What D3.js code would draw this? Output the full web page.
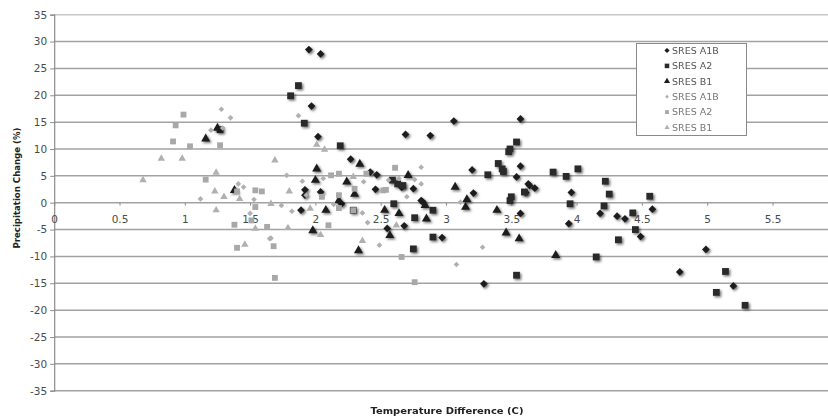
<!doctype html>
<html>
  <head>
    <meta charset="utf-8">
    <script src="https://cdnjs.cloudflare.com/ajax/libs/d3/7.8.5/d3.min.js"></script>
    <style>
      body { margin: 0; background: #fff; }
      text { font-family: "DejaVu Sans", Verdana, sans-serif; }
    </style>
  </head>
  <body>
    <svg></svg>
    <script>
      var width = 828,
          height = 418;

      // [temperature difference, precipitation change]
      var a1bDark = [[1.95,28.5],[2.04,27.7],[1.97,18.0],[2.02,12.3],[2.27,8.1],[2.69,12.7],[2.88,12.5],[3.06,15.2],
        [3.57,15.6],[3.20,6.1],[2.47,5.2],[2.75,2.6],[3.21,1.8],[1.92,2.4],[2.04,2.0],[2.46,2.5],[2.82,0.2],
        [3.57,6.8],[3.54,4.8],[3.63,3.5],[3.68,2.7],[1.89,-1.4],[2.68,-4.3],[2.97,-6.5],[3.57,-2.0],[3.96,1.9],
        [4.58,-1.2],[3.94,-3.9],[4.18,-2.0],[4.31,-2.5],[4.37,-3.0],[4.49,-6.3],[3.29,-15.1],[4.99,-8.7],
        [4.79,-12.9],[5.20,-15.5],[2.81,0.4],[2.66,2.9],[1.92,1.4],[2.42,5.7],[3.61,1.9],[3.64,3.2],[2.20,-0.2],
        [2.55,-4.8]];
      var a2Dark = [[1.87,21.8],[1.81,19.9],[1.915,14.8],[2.19,10.6],[2.59,4.2],[2.60,-0.2],[3.54,11.3],[3.49,10.0],
        [3.48,9.5],[3.40,7.3],[3.43,6.3],[3.32,5.2],[3.60,2.0],[3.50,1.1],[3.49,0.4],[2.90,-1.4],[2.76,-2.8],
        [2.90,-6.4],[2.75,-8.6],[3.82,5.7],[3.92,4.9],[4.01,6.3],[4.22,4.0],[4.25,1.6],[4.56,1.2],[3.95,-0.2],
        [4.21,-0.6],[4.43,-1.9],[4.45,-5.0],[4.32,-6.9],[4.15,-10.1],[3.54,-13.5],[5.14,-12.8],[5.07,-16.7],
        [5.29,-19.1],[2.29,-1.4],[2.63,3.5],[1.27,13.6],[2.67,3.2],[3.44,5.8]];
      var b1Dark = [[2.34,7.2],[2.01,6.3],[2.71,5.1],[2.24,3.9],[2.00,4.2],[2.30,1.6],[3.07,2.9],[3.16,0.6],
        [2.18,0.4],[3.15,-0.8],[3.39,-1.4],[2.85,-3.0],[3.46,-5.6],[3.56,-6.7],[3.84,-9.8],[2.08,-1.4],
        [2.53,-1.4],[2.64,-2.0],[1.98,-5.2],[2.57,-6.1],[2.33,-8.9],[1.16,11.9],[1.38,2.3],[2.84,-0.5],
        [1.25,13.9]];
      var a1bLight = [[1.28,17.4],[1.35,15.8],[1.20,13.5],[1.29,13.9],[1.87,16.2],[1.12,0.7],[1.41,3.5],[1.53,0.6],
        [1.50,-2.0],[1.66,-6.6],[1.78,5.1],[1.90,4.0],[2.06,4.5],[2.56,4.2],[2.64,4.5],[2.81,6.6],[2.76,4.3],
        [2.81,3.5],[2.70,1.1],[3.11,0.1],[3.28,-8.3],[3.08,-11.5],[1.74,-0.5],[1.82,-1.6],[2.36,-1.9],
        [2.40,-3.7],[2.49,-7.9],[1.65,-6.7],[2.37,3.9],[1.93,1.4],[1.45,2.9],[2.14,-0.3]];
      var a2Light = [[0.99,16.4],[0.93,14.4],[0.91,11.4],[1.04,10.5],[1.27,10.7],[1.16,4.3],[1.40,2.1],[1.54,2.3],
        [1.59,2.1],[1.54,-0.8],[1.51,-3.3],[1.38,-4.1],[1.63,-4.5],[1.68,-8.1],[1.40,-8.4],[1.69,-14.0],
        [2.12,5.1],[2.18,5.4],[2.39,5.4],[2.61,6.5],[2.05,1.1],[2.18,1.4],[2.52,2.3],[2.30,2.6],[2.18,-1.0],
        [2.29,-1.4],[2.10,-4.2],[2.66,-10.1],[2.76,-14.8],[2.54,2.4]];
      var b1Light = [[0.82,8.2],[0.98,8.2],[0.68,4.2],[1.24,5.6],[1.23,2.1],[1.30,1.1],[1.24,-1.4],[1.42,0.7],
        [1.66,-0.2],[1.54,-4.8],[1.46,-7.8],[1.79,-4.7],[1.69,7.9],[2.01,10.8],[2.07,9.9],[1.80,2.1],
        [1.96,-1.1],[2.29,4.8],[2.04,-6.0],[2.36,-7.1],[2.62,-4.2]];

      var seriesNames = ["SRES A1B", "SRES A2", "SRES B1", "SRES A1B", "SRES A2", "SRES B1"];
      var xTicks = [0, 0.5, 1, 1.5, 2, 2.5, 3, 3.5, 4, 4.5, 5, 5.5];
      var yTicks = [35, 30, 25, 20, 15, 10, 5, 0, -5, -10, -15, -20, -25, -30, -35];

      // diamonds are drawn as squares turned 45 degrees (rot)
      var series = [
        { name: seriesNames[0], data: a1bDark, shape: d3.symbolSquare, rot: 45, fill: "#1c1c1c", size: 30, shadow: true },
        { name: seriesNames[1], data: a2Dark, shape: d3.symbolSquare, rot: 0, fill: "#2a2a2a", size: 46, shadow: true },
        { name: seriesNames[2], data: b1Dark, shape: d3.symbolTriangle, rot: 0, fill: "#1c1c1c", size: 36, shadow: true },
        { name: seriesNames[3], data: a1bLight, shape: d3.symbolSquare, rot: 45, fill: "#b0b0b0", size: 16, shadow: false },
        { name: seriesNames[4], data: a2Light, shape: d3.symbolSquare, rot: 0, fill: "#a8a8a8", size: 34, shadow: false },
        { name: seriesNames[5], data: b1Light, shape: d3.symbolTriangle, rot: 0, fill: "#b0b0b0", size: 24, shadow: false }
      ];

      var x = d3.scaleLinear().domain([0, 6]).range([54.2, 837.8]);
      var y = d3.scaleLinear().domain([-35, 35]).range([390.7, 14.7]);

      var svg = d3.select("svg").attr("width", width).attr("height", height);

      var defs = svg.append("defs");
      defs.append("filter").attr("id", "shadow")
          .attr("x", "-50%").attr("y", "-50%").attr("width", "200%").attr("height", "200%")
        .append("feDropShadow")
          .attr("dx", 1.5).attr("dy", 1.5).attr("stdDeviation", 0.9)
          .attr("flood-color", "#000").attr("flood-opacity", 0.55);

      // gridlines
      svg.append("g").selectAll("line").data(yTicks).enter().append("line")
          .attr("x1", x(0)).attr("x2", width)
          .attr("y1", function(d){ return y(d); }).attr("y2", function(d){ return y(d); })
          .style("stroke", function(d){ return d === 35 ? "#c8c8c8" : "#a2a2a2"; })
          .style("stroke-width", 1.5);

      // y axis
      var yAxis = d3.axisLeft(y).tickValues(yTicks).tickSize(4).tickFormat(function(d){ return String(d); });
      var gy = svg.append("g").attr("transform", "translate(" + x(0) + ",0)").call(yAxis);
      gy.select(".domain").style("stroke", "#8c8c8c").style("stroke-width", 1.2);
      gy.selectAll(".tick line").style("stroke", "#8c8c8c");
      gy.selectAll(".tick text").attr("x", -7).style("font-size", "10.5px").style("fill", "#4a4a4a")
          .style("font-family", "'DejaVu Sans', Verdana, sans-serif");

      // x axis crossing at zero
      var xAxis = d3.axisBottom(x).tickValues(xTicks).tickSize(3).tickFormat(function(d){ return String(d); });
      var gx = svg.append("g").attr("transform", "translate(0," + y(0) + ")").call(xAxis);
      gx.select(".domain").remove();
      gx.selectAll(".tick line").style("stroke", "#8c8c8c");
      gx.selectAll(".tick text").attr("y", 13).style("font-size", "10.5px").style("fill", "#4a4a4a")
          .style("font-family", "'DejaVu Sans', Verdana, sans-serif");

      // points
      series.forEach(function(s){
        var g = svg.append("g");
        if (s.shadow) g.attr("filter", "url(#shadow)");
        g.selectAll("path").data(s.data).enter().append("path")
            .attr("d", d3.symbol().type(s.shape).size(s.size))
            .attr("transform", function(d){
              return "translate(" + x(d[0]) + "," + y(d[1]) + ") rotate(" + s.rot + ")";
            })
            .style("fill", s.fill);
      });

      // axis titles
      svg.append("text")
          .attr("transform", "translate(20,188) rotate(-90)")
          .attr("text-anchor", "middle")
          .attr("textLength", 121).attr("lengthAdjust", "spacingAndGlyphs")
          .style("font-size", "9px").style("font-weight", "bold").style("fill", "#222")
          .text("Precipitation Change (%)");
      svg.append("text")
          .attr("x", 447).attr("y", 414)
          .attr("text-anchor", "middle")
          .attr("textLength", 153).attr("lengthAdjust", "spacingAndGlyphs")
          .style("font-size", "9px").style("font-weight", "bold").style("fill", "#222")
          .text("Temperature Difference (C)");

      // legend
      var legend = svg.append("g");
      legend.append("rect")
          .attr("x", 636.5).attr("y", 43.5).attr("width", 110).attr("height", 92)
          .style("fill", "#fff").style("stroke", "#8a8a8a");
      var ly = d3.scalePoint().domain(d3.range(series.length)).range([50.5, 127.5]);
      series.forEach(function(s, i){
        legend.append("path")
            .attr("d", d3.symbol().type(s.shape).size(s.size * 0.45))
            .attr("transform", "translate(667," + ly(i) + ") rotate(" + s.rot + ")")
            .style("fill", s.fill);
        legend.append("text")
            .attr("x", 672).attr("y", ly(i)).attr("dy", "0.35em")
            .style("font-size", "9.5px").style("fill", i < 3 ? "#555" : "#777")
            .text(s.name);
      });
    </script>
  </body>
</html>
